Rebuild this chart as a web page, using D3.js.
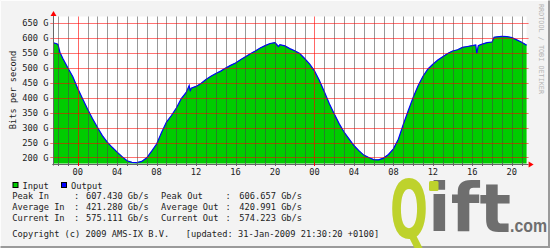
<!DOCTYPE html>
<html>
<head>
<meta charset="utf-8">
<script src="https://d3js.org/d3.v7.min.js"></script>
<style>
  html, body { margin: 0; padding: 0; background: #f3f3f3; }
  svg { display: block; }
  .mono { font-family: "DejaVu Sans Mono", monospace; font-size: 8.7px; fill: #222; }
</style>
</head>
<body>
<div id="chart"></div>
<script>
// time of each sample, in hours relative to 30-Jan-2009 00:00
const hours = [
  -2.47, -2.2, -2.0, -1.8, -1.5, -1.0, -0.5, 0, 0.5, 1.0, 1.5, 2.0, 2.5, 3.0, 3.5, 4.0,
  4.5, 5.0, 5.5, 6.0, 6.5, 7.0, 7.5, 8.0, 8.5, 9.0, 9.5, 10.0, 10.5, 11.0, 11.3, 11.4,
  11.5, 12.0, 12.5, 13.0, 13.5, 14.0, 14.5, 15.0, 15.5, 16.0, 16.5, 17.0, 17.5, 18.0, 18.5, 19.0,
  19.5, 20.0, 20.35, 20.5, 21.0, 21.5, 22.0, 22.5, 23.0, 23.5, 24.0, 24.5, 25.0, 25.5, 26.0, 26.5,
  27.0, 27.5, 28.0, 28.5, 29.0, 29.5, 30.0, 30.5, 31.0, 31.5, 32.0, 32.5, 33.0, 33.5, 34.0, 34.5,
  35.0, 35.5, 36.0, 36.5, 37.0, 37.5, 38.0, 38.5, 39.0, 39.5, 40.0, 40.35, 40.45, 40.6, 41.0, 41.5,
  42.0, 42.2, 42.5, 43.0, 43.5, 44.0, 44.5, 45.0, 45.5
];
// Gb/s
const inputGbps = [
  583, 581, 578, 552, 530, 500, 471, 432, 397, 363, 330, 302, 274, 252, 235, 219,
  204, 190, 185, 184, 188, 200, 222, 246, 284, 319, 341, 366, 397, 418, 441, 422,
  432, 438, 448, 461, 472, 481, 489, 499, 508, 516, 527, 537, 547, 556, 566, 574,
  581, 584, 571, 577, 573, 564, 557, 548, 531, 513, 490, 458, 420, 381, 347, 314,
  286, 263, 241, 224, 209, 201, 194, 193, 199, 211, 230, 262, 311, 357, 401, 440,
  472, 496, 512, 526, 537, 548, 556, 560, 568, 571, 574, 576, 548, 574, 579, 584,
  586, 602, 603, 605, 604, 601, 593, 585, 577
];
const outputGbps = [
  582, 580, 577, 551, 530, 499, 470, 431, 396, 362, 330, 301, 273, 251, 234, 218,
  203, 189, 184, 183, 187, 199, 221, 245, 283, 318, 340, 365, 396, 417, 440, 421,
  431, 437, 447, 460, 471, 480, 488, 498, 507, 515, 526, 536, 546, 555, 565, 573,
  580, 583, 570, 576, 572, 563, 556, 547, 530, 512, 489, 457, 419, 380, 346, 313,
  285, 262, 240, 223, 208, 200, 193, 192, 198, 210, 229, 261, 310, 356, 400, 439,
  471, 495, 511, 525, 536, 547, 555, 559, 567, 570, 573, 575, 547, 573, 578, 583,
  585, 601, 602, 604, 603, 600, 592, 584, 574
];
const yTicks = [200, 250, 300, 350, 400, 450, 500, 550, 600, 650];
const legendRows = [
  ["Peak In", "607.430 Gb/s", "Peak Out", "606.657 Gb/s"],
  ["Average In", "421.280 Gb/s", "Average Out", "420.991 Gb/s"],
  ["Current In", "575.111 Gb/s", "Current Out", "574.223 Gb/s"]
];

const W = 550, H = 248;
const midnight = new Date(2009, 0, 30, 0, 0, 0);
const atHour = h => new Date(midnight.getTime() + h * 3600e3);
const data = hours.map((h, i) => ({ t: atHour(h), inp: inputGbps[i], out: outputGbps[i] }));

const x = d3.scaleTime()
  .domain([atHour(-2.47), atHour(45.5)])
  .range([53.3, 526.6]);
const y = d3.scaleLinear()
  .domain([180, 670])
  .range([163.5, 16.5]);

const svg = d3.select("#chart").append("svg")
  .attr("width", W).attr("height", H);

// frame
svg.append("rect").attr("width", W).attr("height", H).attr("fill", "#f3f3f3");
svg.append("path").attr("d", `M0.5,${H-0.5}V0.5H${W-0.5}`).attr("fill", "none").attr("stroke", "#fdfdfd");
svg.append("path").attr("d", `M0.5,${H-1}H${W-1}V0.5`).attr("fill", "none").attr("stroke", "#9a9a9a").attr("stroke-width", 2);

const x0 = x.range()[0], x1 = x.range()[1];
svg.append("rect")
  .attr("x", x0).attr("y", y.range()[1])
  .attr("width", x1 - x0).attr("height", y.range()[0] - y.range()[1])
  .attr("fill", "#fff");

// input area + output line
svg.append("path").datum(data)
  .attr("fill", "#00cc00")
  .attr("d", d3.area().x(d => x(d.t)).y0(y(180)).y1(d => y(d.inp)));
svg.append("path").datum(data)
  .attr("fill", "none").attr("stroke", "#0000ff").attr("stroke-width", 1.2)
  .attr("d", d3.line().x(d => x(d.t)).y(d => y(d.out)));

// grid on top
const hourTicks = x.ticks(d3.timeHour.every(1));
const px = v => Math.round(v) + 0.5;
svg.append("g").selectAll("line").data(hourTicks).join("line")
  .attr("x1", d => px(x(d))).attr("x2", d => px(x(d)))
  .attr("y1", y.range()[1]).attr("y2", y.range()[0])
  .attr("stroke", d => d.getHours() === 0 ? "rgba(255,0,0,0.6)" : "rgba(70,70,70,0.55)");
svg.append("g").selectAll("line").data(yTicks).join("line")
  .attr("x1", x0 - 3).attr("x2", x1 + 2)
  .attr("y1", d => px(y(d))).attr("y2", d => px(y(d)))
  .attr("stroke", "rgba(255,0,0,0.55)");

// axes
svg.append("line").attr("x1", x0 - 1).attr("x2", x1 + 2)
  .attr("y1", px(y(180))).attr("y2", px(y(180))).attr("stroke", "#666");
svg.append("line").attr("x1", px(x0)).attr("x2", px(x0))
  .attr("y1", y.range()[1] - 2).attr("y2", y.range()[0] + 2).attr("stroke", "#666");
svg.append("g").selectAll("line").data(hourTicks).join("line")
  .attr("x1", d => px(x(d))).attr("x2", d => px(x(d)))
  .attr("y1", y(180) - 1).attr("y2", y(180) + 2.5)
  .attr("stroke", d => d.getHours() === 0 ? "#f00" : "#666");
// arrows
svg.append("path").attr("d", `M${px(x0) - 3},16 L${px(x0)},11 L${px(x0) + 3},16Z`).attr("fill", "#f00");
svg.append("path").attr("d", `M${x1 + 2},${px(y(180)) - 3} L${x1 + 7},${px(y(180))} L${x1 + 2},${px(y(180)) + 3}Z`).attr("fill", "#f00");

// labels
svg.append("g").selectAll("text").data(yTicks).join("text")
  .attr("class", "mono").attr("text-anchor", "end")
  .attr("x", 48.5).attr("y", d => y(d) + 3)
  .attr("xml:space", "preserve")
  .text(d => d + " G");
svg.append("g").selectAll("text").data(x.ticks(d3.timeHour.every(4))).join("text")
  .attr("class", "mono").attr("text-anchor", "middle")
  .attr("x", d => x(d)).attr("y", 175)
  .text(d3.timeFormat("%H"));
svg.append("text").attr("class", "mono").attr("text-anchor", "middle")
  .attr("transform", "translate(12.5,90) rotate(-90)")
  .attr("dy", "0.35em")
  .text("Bits per second");
svg.append("text").attr("class", "mono")
  .attr("transform", "translate(539,4) rotate(90)")
  .style("font-size", "6.8px").style("fill", "#b4b4b4")
  .text("RRDTOOL / TOBI OETIKER");

// legend
const lg = svg.append("g");
[["Input", "#00cc00", 12.5], ["Output", "#0000ff", 61]].forEach(([name, c, lx]) => {
  lg.append("rect").attr("x", lx + 0.5).attr("y", 182.5).attr("width", 5).attr("height", 5)
    .attr("fill", c).attr("stroke", "#000");
  lg.append("text").attr("class", "mono").attr("x", lx + 10).attr("y", 188.5).text(name);
});
legendRows.forEach((r, i) => {
  const ty = 199 + i * 11;
  lg.append("text").attr("class", "mono").attr("x", 12.3).attr("y", ty).text(r[0]);
  lg.append("text").attr("class", "mono").attr("x", 74).attr("y", ty).text(":");
  lg.append("text").attr("class", "mono").attr("x", 86).attr("y", ty).text(r[1]);
  lg.append("text").attr("class", "mono").attr("x", 161).attr("y", ty).text(r[2]);
  lg.append("text").attr("class", "mono").attr("x", 225.5).attr("y", ty).text(":");
  lg.append("text").attr("class", "mono").attr("x", 239.3).attr("y", ty).text(r[3]);
});
lg.append("text").attr("class", "mono").attr("x", 12.3).attr("y", 236.5)
  .text("Copyright (c) 2009 AMS-IX B.V.");
lg.append("text").attr("class", "mono").attr("x", 185.7).attr("y", 236.5)
  .text("[updated: 31-Jan-2009 21:30:20 +0100]");

// qifti watermark
const logo = svg.append("g").style("font-family", "'DejaVu Sans', sans-serif").style("font-weight", "bold");
logo.append("text").attr("x", 390).attr("y", 238)
  .attr("textLength", 38).attr("lengthAdjust", "spacingAndGlyphs")
  .style("font-size", "80px").style("fill", "#bed22c").text("Q");
logo.append("text").attr("x", 428).attr("y", 232)
  .attr("textLength", 83).attr("lengthAdjust", "spacingAndGlyphs")
  .style("font-size", "67px").style("fill", "#6e6e6e").text("ift");
logo.append("rect").attr("x", 429).attr("y", 181).attr("width", 9.5).attr("height", 10).attr("rx", 1.5).attr("fill", "#bed22c");
logo.append("text").attr("x", 510).attr("y", 232)
  .attr("textLength", 37).attr("lengthAdjust", "spacingAndGlyphs")
  .style("font-family", "'Liberation Sans', sans-serif")
  .style("font-size", "19px").style("fill", "#6e6e6e").text(".com");
</script>
</body>
</html>
